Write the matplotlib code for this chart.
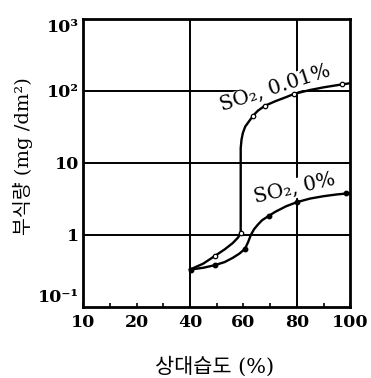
import matplotlib.pyplot as plt
from matplotlib.transforms import ScaledTranslation

# 상대습도 (%) 에 따른 부식량 (mg/dm^2)
rh_so2_hi = [40, 45, 49.3, 53, 56, 58, 59, 59, 59.3, 59.8, 60.7, 61.7, 63.6, 65.4, 68, 72, 76, 79, 85, 90, 95, 100]
loss_so2_hi = [0.33, 0.4, 0.51, 0.63, 0.77, 0.92, 1.07, 16, 21, 26, 32, 36, 45, 53, 62, 72, 82, 91, 103, 112, 120, 128]
rh_so2_hi_pts = [49.3, 59, 63.6, 68, 79, 97]
loss_so2_hi_pts = [0.51, 1.07, 45, 62, 91, 125]

rh_so2_0 = [40, 45, 49.3, 53, 56, 58.5, 60.6, 61.8, 62.8, 64, 65.5, 67, 69.5, 72, 76, 80, 85, 90, 95, 100]
loss_so2_0 = [0.33, 0.35, 0.38, 0.42, 0.48, 0.55, 0.64, 0.8, 1.0, 1.2, 1.4, 1.6, 1.84, 2.1, 2.5, 2.85, 3.2, 3.45, 3.65, 3.8]
rh_so2_0_pts = [40.4, 49.3, 60.6, 69.5, 80, 98.5]
loss_so2_0_pts = [0.33, 0.38, 0.64, 1.84, 2.85, 3.8]

x_ticks = [0, 10, 20, 30, 40, 50, 60, 70, 80, 90, 100]
x_labels = ['10', '', '20', '', '40', '', '60', '', '80', '', '100']
y_ticks = [0.1, 1, 10, 100, 1000]
y_labels = ['10⁻¹', '1', '10', '10²', '10³']

serif_kr = ['DejaVu Serif', 'Noto Sans CJK KR']

fig = plt.figure(figsize=(3.71, 3.78), dpi=100)
ax = fig.add_axes([0.224, 0.188, 0.72, 0.762])
ax.set_yscale('log')
ax.set_xlim(0, 100)
ax.set_ylim(0.1, 1000)

# 격자선
for y in [1, 10, 100]:
    ax.axhline(y, color='black', lw=1.4, zorder=1)
for x in [40, 80]:
    ax.axvline(x, color='black', lw=1.4, zorder=1)

ax.plot(rh_so2_hi, loss_so2_hi, color='black', lw=1.7, zorder=3)
ax.plot(rh_so2_0, loss_so2_0, color='black', lw=1.7, zorder=3)
ax.plot(rh_so2_hi_pts, loss_so2_hi_pts, 'o', ms=3.2, mfc='white', mec='black', mew=0.9, zorder=4)
ax.plot(rh_so2_0_pts, loss_so2_0_pts, 'o', ms=3.2, color='black', zorder=4)

lab_kw = dict(fontsize=14.5, family='DejaVu Serif', ha='center', va='center', zorder=2,
              bbox=dict(facecolor='white', edgecolor='none', pad=0.3))
ax.text(72, 108, 'SO₂, 0.01%', rotation=18, **lab_kw)
ax.text(79, 4.4, 'SO₂, 0%', rotation=13, **lab_kw)

ax.set_xticks(x_ticks)
ax.set_xticklabels(x_labels, family='DejaVu Serif', fontweight='bold', fontsize=12.5)
ax.set_yticks(y_ticks)
ax.set_yticklabels(y_labels, family='DejaVu Serif', fontweight='bold', fontsize=12.5)
ax.minorticks_off()
ax.tick_params(axis='x', direction='in', length=3, width=1.2, pad=5)
ax.tick_params(axis='y', length=0, pad=3)
for s in ax.spines.values():
    s.set_linewidth(2)

# 맨 아래, 맨 위 눈금 글자 위치 조정
ylabs = ax.get_yticklabels()
ylabs[0].set_transform(ylabs[0].get_transform() + ScaledTranslation(0, 8 / 72, fig.dpi_scale_trans))
ylabs[-1].set_transform(ylabs[-1].get_transform() + ScaledTranslation(0, -5 / 72, fig.dpi_scale_trans))

ax.set_xlabel('상대습도 (%)', family=serif_kr, fontsize=15, va='center')
ax.xaxis.set_label_coords(0.494, -0.208)
ax.set_ylabel('부식량 (mg /dm²)', family=serif_kr, fontsize=14, va='center')
ax.yaxis.set_label_coords(-0.225, 0.524)

fig.savefig('out.png', dpi=100)
